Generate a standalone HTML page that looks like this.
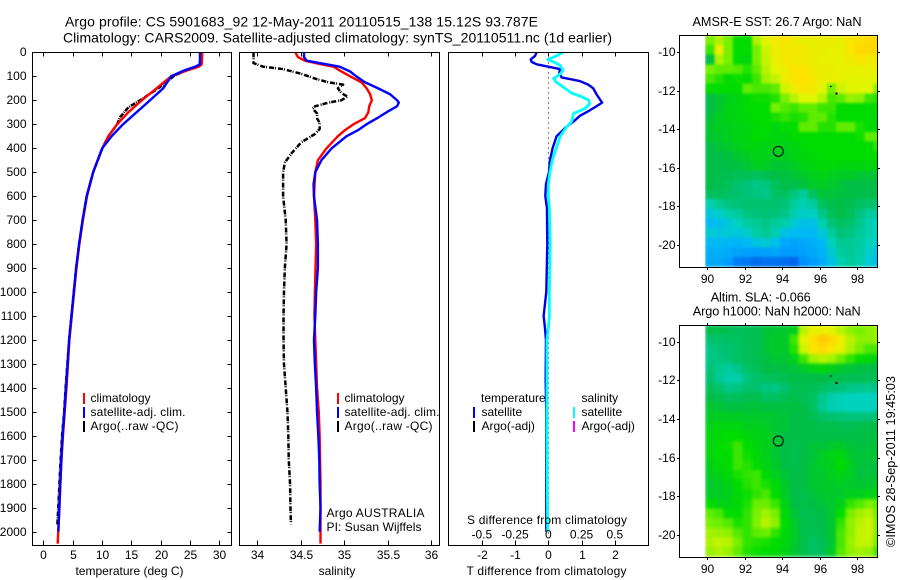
<!DOCTYPE html>
<html>
<head>
<meta charset="utf-8">
<title>Argo profile</title>
<style>
html,body{margin:0;padding:0;background:#fff}
svg{display:block}
text{font-family:"Liberation Sans",sans-serif;font-size:12px;fill:#000}
</style>
</head>
<body>
<svg id="chart" xmlns="http://www.w3.org/2000/svg" width="900" height="580" viewBox="0 0 900 580">
<defs>
<clipPath id="clip-sst"><rect x="705" y="35.5" width="172.5" height="232"/></clipPath>
<clipPath id="clip-sla"><rect x="705" y="325.5" width="172.5" height="232"/></clipPath>
<clipPath id="clip-p1"><rect x="32.5" y="52.5" width="199" height="493"/></clipPath>
<clipPath id="clip-p2"><rect x="239.5" y="52.5" width="200" height="493"/></clipPath>
<clipPath id="clip-p3"><rect x="448.5" y="52.5" width="200" height="493"/></clipPath>
<filter id="soften-sst" filterUnits="userSpaceOnUse" x="705" y="35" width="173" height="233" color-interpolation-filters="sRGB"><feGaussianBlur stdDeviation="1.3" edgeMode="duplicate"/></filter>
<filter id="soften-sla" filterUnits="userSpaceOnUse" x="705" y="325" width="173" height="233" color-interpolation-filters="sRGB"><feGaussianBlur stdDeviation="1.6" edgeMode="duplicate"/></filter>
</defs>
<text x="65" y="26.5" style="font-size:14px" textLength="473" lengthAdjust="spacing">Argo profile: CS 5901683_92 12-May-2011 20110515_138 15.12S 93.787E</text>
<text x="63" y="42.5" style="font-size:14px" textLength="549" lengthAdjust="spacing">Climatology: CARS2009. Satellite-adjusted climatology: synTS_20110511.nc (1d earlier)</text>
<g id="layer-maps"></g>
<g id="layer-profiles"></g>

<text x="129.5" y="575" text-anchor="middle">temperature (deg C)</text>
<text x="337" y="575" text-anchor="middle">salinity</text>
<text x="546.5" y="575" text-anchor="middle" textLength="160" lengthAdjust="spacing">T difference from climatology</text>
<text x="467" y="524" textLength="160" lengthAdjust="spacing">S difference from climatology</text>

<g>
<rect x="83" y="393" width="2" height="11" fill="#f00"/>
<rect x="83" y="407" width="2" height="11" fill="#00f"/>
<rect x="83" y="421" width="2" height="11" fill="#000"/>
<text x="90.5" y="402">climatology</text>
<text x="90.5" y="416" textLength="95" lengthAdjust="spacing">satellite-adj. clim.</text>
<text x="90.5" y="430" textLength="88" lengthAdjust="spacing">Argo(..raw -QC)</text>
</g>
<g>
<rect x="337" y="393" width="2" height="11" fill="#f00"/>
<rect x="337" y="407" width="2" height="11" fill="#00f"/>
<rect x="337" y="421" width="2" height="11" fill="#000"/>
<text x="344.5" y="402">climatology</text>
<text x="344.5" y="416" textLength="95" lengthAdjust="spacing">satellite-adj. clim.</text>
<text x="344.5" y="430" textLength="88" lengthAdjust="spacing">Argo(..raw -QC)</text>
<text x="326.5" y="517" textLength="98" lengthAdjust="spacing">Argo AUSTRALIA</text>
<text x="326.5" y="531" textLength="95" lengthAdjust="spacing">PI: Susan Wijffels</text>
</g>
<g>
<text x="481" y="402">temperature</text>
<rect x="473" y="407" width="2" height="11" fill="#00f"/>
<rect x="473" y="421" width="2" height="11" fill="#000"/>
<text x="481.5" y="416">satellite</text>
<text x="481.5" y="430">Argo(-adj)</text>
<text x="581.5" y="402">salinity</text>
<rect x="573" y="407" width="2" height="11" fill="#0ff"/>
<rect x="573" y="421" width="2" height="11" fill="#f0f"/>
<text x="581.5" y="416">satellite</text>
<text x="581.5" y="430">Argo(-adj)</text>
</g>

<text x="777" y="26" text-anchor="middle" textLength="169" lengthAdjust="spacing" style="font-size:12.7px">AMSR-E SST: 26.7 Argo: NaN</text>
<text x="760.7" y="301.5" text-anchor="middle" textLength="100" lengthAdjust="spacing" style="font-size:12.7px">Altim. SLA: -0.066</text>
<text x="776.7" y="315.5" text-anchor="middle" textLength="168" lengthAdjust="spacing" style="font-size:12.7px">Argo h1000: NaN h2000: NaN</text>
<text transform="translate(895 547) rotate(-90)" textLength="171" lengthAdjust="spacing" style="font-size:12.7px">©IMOS 28-Sep-2011 19:45:03</text>
</svg>

<script>
// ---------- profile data ----------
const tempClimDepth = [0,50,60,75,100,150,200,250,300,350,400,500,600,700,800,900,1000,1100,1200,1300,1400,1500,1600,1700,1800,1900,2000,2050];
const tempClim = [27.1,27,26.5,24.6,21.8,19.3,16.8,14.5,12.6,11.1,10.06,8.5,7.45,6.75,6.15,5.65,5.25,4.85,4.45,4.2,3.95,3.65,3.35,3.1,2.9,2.75,2.55,2.45];
const tempSatDepth = [0,50,60,75,100,150,200,250,300,350,400,500,600,700,800,900,1000,1100,1200,1300,1400,1500,1600,1700,1800,1900,2000];
const tempSat = [26.7,26.7,25.9,24.1,21.8,20.45,18.2,15.9,13.6,11.65,10.06,8.5,7.4,6.7,6.1,5.6,5.2,4.8,4.4,4.15,3.87,3.6,3.3,3.07,2.9,2.73,2.56];
const tempArgoDepth = [0,50,60,75,100,150,200,230,270,300,350,400,500,600,700,800,900,1000,1100,1200,1300,1400,1500,1600,1700,1800,1900,1970];
const tempArgo = [26.8,26.7,26,24.3,22.2,19.6,16.5,14.5,13.1,12.6,11.1,10.06,8.5,7.4,6.7,6.1,5.6,5.2,4.8,4.4,4.1,3.8,3.55,3.2,2.95,2.75,2.55,2.4];

const salClimDepth = [0,20,35,50,60,80,100,125,150,175,200,225,250,275,300,325,350,400,450,500,600,700,800,1000,1100,1200,1300,1400,1500,1600,1800,2000,2050];
const salClim = [34.44,34.47,34.55,34.74,34.88,34.97,35.07,35.2,35.26,35.3,35.32,35.29,35.28,35.24,35.11,35.01,34.93,34.8,34.7,34.67,34.655,34.67,34.68,34.665,34.66,34.67,34.68,34.69,34.71,34.72,34.73,34.73,34.73];
const salSatDepth = [0,20,35,50,60,80,100,125,150,175,200,210,225,250,275,300,325,350,400,450,500,550,600,700,800,900,1000,1100,1200,1300,1400,1500,1600,1700,1800,1900,2000];
const salSat = [34.54,34.54,34.57,34.8,34.95,35.07,35.14,35.24,35.39,35.53,35.61,35.63,35.61,35.49,35.38,35.26,35.16,35.03,34.86,34.74,34.67,34.65,34.655,34.69,34.7,34.7,34.68,34.67,34.655,34.665,34.68,34.69,34.705,34.716,34.72,34.73,34.72];
const salArgoDepth = [0,45,60,70,90,110,125,135,150,170,185,200,210,225,235,255,275,295,320,340,375,420,460,500,600,700,800,900,1000,1100,1200,1300,1400,1500,1600,1700,1800,1900,1970];
const salArgo = [33.96,33.96,34.07,34.3,34.51,34.67,34.82,34.99,34.93,34.97,35.04,34.97,34.82,34.67,34.64,34.69,34.69,34.72,34.72,34.67,34.51,34.4,34.32,34.3,34.3,34.33,34.34,34.32,34.31,34.305,34.305,34.31,34.33,34.35,34.36,34.365,34.38,34.385,34.39];

const diffTDepth = [0,15,30,40,50,60,70,85,105,120,135,150,175,200,210,225,250,265,290,310,350,400,450,500,550,600,650,800,1000,1050,1100,1150,1200,1370,1500,1770,2000];
const diffT = [-0.35,-0.4,-0.53,-0.5,-0.35,0,0.35,0.33,0.4,0.95,1.2,1.35,1.45,1.57,1.62,1.45,1.15,0.95,0.75,0.55,0.25,0.13,0.05,0.02,-0.07,-0.09,-0.04,-0.03,-0.06,-0.1,-0.14,-0.1,-0.07,-0.08,-0.06,-0.06,-0.06];
const diffSDepth = [0,15,30,40,55,75,90,110,125,150,170,185,200,215,235,255,290,310,350,400,450,500,550,600,650,800,1000,1100,1150,1200,1500,1750,2000];
const diffS = [0.11,0.06,-0.005,0.04,0.09,0.11,0.09,0.04,0.06,0.125,0.175,0.25,0.305,0.31,0.275,0.19,0.175,0.14,0.09,0.06,0.03,0.012,0,0,0.008,0.015,0.008,0.008,0,-0.01,-0.01,-0.008,-0.005];

// ---------- tick labels ----------
const depthTicks = [0,100,200,300,400,500,600,700,800,900,1000,1100,1200,1300,1400,1500,1600,1700,1800,1900,2000];
const tempTicks = [0,5,10,15,20,25,30];
const salTicks = [34,34.5,35,35.5,36];
const diffTTicks = [-2,-1,0,1,2];
const diffSTicks = [-0.5,-0.25,0,0.25,0.5];
const lonTicks = [90,92,94,96,98];
const latTicks = [-10,-12,-14,-16,-18,-20];

// ---------- map data (rows north to south, 0.5 degree cells, colour-scale units) ----------
const argoLon = 93.787;
const argoLat = -15.14;
const islandLon = [96.9,96.6];
const islandLat = [-12.13,-11.8];
const sstGrid = [
[7,7.5,7,6,6,7.5,8,8.5,8.7,8.5,8.3,8.3,8.3,8.3,8.3,8.8,9,9.2,9.2],
[6.5,8.4,7,6,6,7,7.8,8.3,8.6,8.6,8.5,8.3,8.3,8.2,8.2,8.8,9.2,9.3,9.2],
[5,7.5,7,6,5.8,7,7.7,8.2,8.7,8.6,8.5,8.4,8.2,8.2,8.2,8.5,8.8,8.6,8.5],
[7,6.8,6.8,6.7,6.3,6.8,7.6,8,8.4,8.8,8.8,8.5,8.3,8.3,8.2,8.2,8.2,8.2,8.2],
[6.6,6.3,6,6.1,6,6.5,7.4,7.7,8.4,8.8,9,8.7,8.3,8.2,8.2,8.1,8.1,8,8],
[6,6,6,6,6.8,6.6,6.6,6.8,7.8,8.4,8.8,8.6,8,7,7.8,8,8,8,7.2],
[5,5.3,5.6,5.8,6,6.1,6.1,6.3,7,7.6,8,8,7.6,6.6,6.8,7.3,7.2,6.5,6.3],
[5,5.3,5.7,5.8,6,6,6,7,6.7,6.5,6.8,6.8,6.5,6.5,6,6,6,6,6],
[5.2,5.5,5.7,5.8,5.9,6,6,6.2,6.4,6.2,6.3,6.8,6.8,6.3,6,6,6,6,5.8],
[5.3,5.5,5.6,5.7,5.8,5.9,6,5.8,6,6,6.8,6.8,6.3,6.3,6.8,6.8,6.2,6,5.8],
[5.3,5.4,5.6,5.7,5.8,6,5.9,5.8,5.8,6,6,6,6,6,6,6,6.1,6.8,6.8],
[5,5.2,5.4,5.6,5.8,5.8,5.7,5.7,5.6,5.8,5.9,6,6,6,6,6,6,6,6.4],
[5,5,5.1,5.3,5.5,5.7,5.6,5.5,5.6,5.7,5.8,5.9,6,6,6,6,6,6,6],
[5,5,5,5.1,5.3,5.6,5.5,5.3,5.3,5.5,5.7,5.8,5.9,5.9,5.8,5.8,5.8,5.8,5.8],
[5,4.9,4.8,4.7,4.7,4.5,4.8,5,5.1,5.2,5.4,5.6,5.7,5.6,5.5,5.4,5.3,5.3,5.3],
[5,4.8,4.6,4.2,4,3.8,3.9,4.6,4.9,4.9,5.1,5.4,5.5,5.4,5.2,5,5,5,5],
[4.5,4.6,4.4,4.2,4,3.9,3.8,4.3,4.5,3.9,3.5,4.4,5.2,5.2,5.1,5,4.9,4.9,4.8],
[3.2,3.6,3.9,4,4.2,4.2,4.2,4.2,4,3.5,3.2,3.5,4.5,4.9,5,4.8,4.5,4.3,4],
[2.5,2.8,3.2,3.5,3.9,4,4.1,4,3.8,3.2,2.8,2.9,3.8,4.6,5,4.6,3.9,3.5,3.4],
[2,2.2,2.5,3,3.4,3.6,3.8,3.5,3.3,2.6,2.3,2.3,3.2,4,4.5,4.2,3.7,3.2,3],
[2.6,2.5,2.6,2.5,2.8,3.4,3.6,3.2,2.3,2.1,2,2,2.5,3.4,4,3.9,3.5,3.2,3],
[2,2,1.9,1.8,2,2.4,2.6,2.2,1.5,1.4,1.5,1.7,2,3,3.6,3.6,3.4,3,2.7],
[1.7,1.7,1.6,1.4,1.3,1.2,1.3,1.4,1.2,1.1,1.3,1.5,1.8,2.6,3.4,3.6,3.3,2.8,2.4],
[1.5,1.5,1.2,0.6,0.5,0.3,0.4,0.4,0.3,0.2,0.9,1.2,1.6,2.3,3.2,3.5,3.2,2.6,2.2]
];
const slaGrid = [
[5,4.9,4.7,4.6,4.7,4.8,5.2,5.3,5.4,5.5,7.6,8.2,8.3,8.1,7.6,7.2,7,7.2,7.4],
[4.2,4.3,4.4,4.5,4.7,4.8,5.2,5.4,5.4,6.5,8,9,9.6,9.2,8.3,7.6,7.2,7.2,7.3],
[3.8,4,4.2,4.4,4.6,4.8,5.2,5.4,5.4,6.3,7.8,8.8,9.2,8.8,8.2,7.5,7,6.6,6.6],
[3.8,3.9,4.1,4.4,4.6,4.8,5.1,5.3,5.3,5.6,6.5,7.4,7.6,7.4,6.9,6.4,6,5.8,5.7],
[4,3.7,3.5,3.8,4.4,4.7,5,5,5.1,5.2,5.4,5.7,5.8,5.6,5.4,5.2,5.1,5,5],
[4.2,3.6,3.3,3.3,3.9,4.3,4.5,4.6,4.8,5,5,5,5,4.9,4.8,4.7,4.7,4.7,4.7],
[4.6,4.3,3.8,3.9,4.2,4.2,3.9,3.8,4.2,4.7,4.8,4.7,4.5,4.2,4,3.8,3.7,3.7,3.8],
[5,4.8,4.5,4.6,4.8,4.9,4.4,4.5,4.7,4.9,4.7,4.5,3.7,3.3,3.1,3,3,3,3.1],
[5.3,5.2,5.1,5.1,5.1,5.2,5.1,5.1,5.1,5.1,5,4.5,3.6,3.2,3.1,3,3,3,3.1],
[5.5,5.5,5.5,5.5,5.4,5.4,5.4,5.3,5.2,5,5,4.8,4.4,4.2,4.1,4,4,4,4.2],
[5.7,5.8,5.8,5.8,5.6,5.6,5.5,5.3,5.2,5,5,5,4.9,4.9,4.8,4.8,4.9,5,5],
[5.8,5.9,6,6,5.8,5.7,5.6,5.3,5,5,5,5,5,5,5,5,5,5,5.2],
[5.8,6,6.1,6.5,6,5.8,5.6,5.3,5,4.9,5,5.2,5.2,5.4,5.4,5.2,5.1,5.1,5.3],
[5.8,6,6,6.5,6.1,5.9,5.6,5.3,5,4.9,5,5.2,5.5,5.7,5.8,5.4,5.2,5.2,5.3],
[5.6,5.9,6,6.5,6.3,6,5.7,5.4,5,4.9,5,5.3,5.5,5.6,6,5.5,5.2,5.1,5.2],
[5.5,5.7,5.9,6.2,6.4,6.5,5.9,5.6,5.2,5,5,5.3,5.4,5.6,5.7,5.5,5.1,5.2,5.2],
[5.4,5.5,5.7,6,6.3,6.5,6.2,5.9,5.4,5,5,5.3,5.4,5.4,5.5,5.4,5.3,5.3,5.4],
[5.5,5.5,5.6,5.9,6.1,6.4,6.6,6,5.5,5,4.9,5.2,5.3,5.4,5.4,5.6,5.6,5.7,5.7],
[6,5.7,5.7,5.9,6.2,6.9,6.9,6.5,5.7,5,4.9,5,5.2,5.4,5.6,6.4,6.7,7,6.8],
[6.8,6.6,6,6,6.4,7,7.4,7,5.9,5.2,4.8,4.9,5,5.3,6,7,7.4,7.6,6.9],
[7,6.9,6.7,6.2,6.4,7.1,7.6,7.2,6,5.4,4.9,4.8,5,5.3,6.4,7.2,7.6,7.8,7],
[7.4,7.3,7.2,6.7,6.4,6.8,6.9,6.4,5.9,5.5,4.9,4.7,4.9,5.3,6.6,7.2,7.7,7.8,7],
[7.5,7.7,7.6,7,6.4,6.3,6.2,6,5.8,5.4,4.9,4.5,4.7,5.3,6.6,7.3,7.7,7.7,6.9],
[7.3,7.5,7.3,6.8,6.3,6.1,6,5.9,5.7,5.3,4.9,4.5,4.7,5.4,6.7,7.2,7.4,7.3,6.5]
];

// ---------- helpers ----------
const NS = 'http://www.w3.org/2000/svg';
const profiles = document.getElementById('layer-profiles');
const maps = document.getElementById('layer-maps');

function make(tag, parent, attrs) {
  const el = document.createElementNS(NS, tag);
  for (const k in attrs) el.setAttribute(k, attrs[k]);
  parent.appendChild(el);
  return el;
}
function depthY(d) { return 52.3 + d * 0.2397; }
function tempX(t) { return 43.3 + t * 5.867; }
function salX(s) { return 257 + (s - 34) * 87; }
function diffTX(v) { return 548.3 + v * 33.25; }
function diffSX(v) { return 548.3 + v * 133; }
function lonX(lon) { return 707.3 + (lon - 90) * 18.75; }
function latYSst(lat) { return 52.3 + (-10 - lat) * 19.27; }
function latYSla(lat) { return 341.7 + (-10 - lat) * 19.33; }

function drawFrame(parent, x0, y0, x1, y1, name) {
  const el = make('rect', parent, {x:x0, y:y0, width:x1-x0, height:y1-y0, fill:'none', stroke:'#000', 'stroke-width':1, 'shape-rendering':'crispEdges'});
  
  
}
function drawTick(parent, x0, y0, x1, y1) {
  const el = make('line', parent, {x1:x0, y1:y0, x2:x1, y2:y1, stroke:'#000', 'stroke-width':1, 'shape-rendering':'crispEdges'});
  
  
}
function drawLabel(parent, x, y, str, anchor) {
  const el = make('text', parent, {x:x, y:y, 'text-anchor':anchor});
  el.textContent = str;
  
  
}
function drawSeries(parent, depths, values, xFn, color, name, clip, dash, width) {
  const pts = depths.map((d, i) => xFn(values[i]).toFixed(2) + ',' + depthY(d).toFixed(2)).join(' ');
  const attrs = {points:pts, fill:'none', stroke:color, 'stroke-width':width || 2.4, 'stroke-linejoin':'round', 'clip-path':'url(#' + clip + ')'};
  if (dash) attrs['stroke-dasharray'] = dash;
  const el = make('polyline', parent, attrs);
  
  
}
function drawProfileAxes(parent, x0, x1, xTicks, xFn, withDepthTicks, name) {
  const y0 = 52.5, y1 = 545.5;
  drawFrame(parent, x0, y0, x1, y1, name);
  xTicks.forEach(t => {
    const x = Math.round(xFn(t)) + 0.5;
    drawTick(parent, x, y0, x, y0 + 4);
    drawTick(parent, x, y1, x, y1 - 5);
    drawLabel(parent, x, 559, String(t), 'middle');
  });
  if (withDepthTicks) {
    depthTicks.forEach(d => {
      const y = Math.round(depthY(d)) + 0.5;
      drawTick(parent, x0, y, x0 + 4, y);
      drawTick(parent, x1, y, x1 - 4, y);
      drawLabel(parent, x0 - 6, y + 3.5, String(d), 'end');
    });
  }
}

// ---------- profile panels ----------
const panelTemp = make('g', profiles, {});


drawSeries(panelTemp, tempArgoDepth, tempArgo, tempX, '#000', 'temperature-argo-line', 'clip-p1', '5 1 1 1', 2.5);
drawSeries(panelTemp, tempClimDepth, tempClim, tempX, '#f00', 'temperature-climatology-line', 'clip-p1');
drawSeries(panelTemp, tempSatDepth, tempSat, tempX, '#00f', 'temperature-satellite-line', 'clip-p1');
drawProfileAxes(panelTemp, 32.5, 231.5, tempTicks, tempX, true, 'temperature-plot-frame');

const panelSal = make('g', profiles, {});


drawSeries(panelSal, salArgoDepth, salArgo, salX, '#000', 'salinity-argo-line', 'clip-p2', '5 1 1 2', 2.5);
drawSeries(panelSal, salClimDepth, salClim, salX, '#f00', 'salinity-climatology-line', 'clip-p2');
drawSeries(panelSal, salSatDepth, salSat, salX, '#00f', 'salinity-satellite-line', 'clip-p2');
drawProfileAxes(panelSal, 239.5, 439.5, salTicks, salX, false, 'salinity-plot-frame');

const panelDiff = make('g', profiles, {});


const zeroLine = make('line', panelDiff, {x1:548.5, y1:52.5, x2:548.5, y2:545.5, stroke:'#000', 'stroke-width':1, 'stroke-dasharray':'1 4', 'shape-rendering':'crispEdges'});


drawSeries(panelDiff, diffTDepth, diffT, diffTX, '#0000e6', 'temperature-difference-line', 'clip-p3');
drawSeries(panelDiff, diffSDepth, diffS, diffSX, '#0ff', 'salinity-difference-line', 'clip-p3', null, 2.8);
drawProfileAxes(panelDiff, 448.5, 648.5, diffTTicks, diffTX, false, 'difference-plot-frame');
diffSTicks.forEach(v => drawLabel(panelDiff, diffSX(v), 538.5, String(v), 'middle'));

// ---------- maps ----------
function valueColor(v) {
  const stops = [[0,90,230],[0,150,255],[0,185,245],[0,210,190],[0,195,120],[0,190,70],[0,220,0],[120,240,0],[225,245,0],[255,225,0],[255,190,0]];
  const c = Math.max(0, Math.min(9.999, v));
  const i = Math.floor(c), f = c - i;
  const mix = j => Math.round(stops[i][j] + (stops[i + 1][j] - stops[i][j]) * f);
  return 'rgb(' + mix(0) + ',' + mix(1) + ',' + mix(2) + ')';
}
function drawMap(grid, latY, x0, y0, x1, y1, clip, soften, name) {
  const g = make('g', maps, {});
  
  
  const clipper = make('g', g, {'clip-path':'url(#' + clip + ')'});
  const cells = make('g', clipper, {'filter':'url(#' + soften + ')', 'shape-rendering':'crispEdges'});
  grid.forEach((row, r) => row.forEach((v, c) => {
    const lonW = 89.875 + c * 0.5, latN = -9.125 - r * 0.5;
    const cell = make('rect', cells, {x:lonX(lonW).toFixed(2), y:latY(latN).toFixed(2), width:(0.5 * 18.75 + 0.5).toFixed(2), height:(0.5 * 19.3 + 0.5).toFixed(2), fill:valueColor(v)});
    
    
  }));
  islandLon.forEach((lon, i) => {
    const isl = make('rect', g, {x:lonX(lon) - 1, y:latY(islandLat[i]) - 1, width:2, height: i === 0 ? 2 : 1, fill:'#000', 'shape-rendering':'crispEdges'});
    
    
  });
  const marker = make('circle', g, {cx:lonX(argoLon), cy:latY(argoLat), r:5, fill:'none', stroke:'#000', 'stroke-width':1});
  
  
  drawFrame(g, x0, y0, x1, y1, 'map-frame');
  lonTicks.forEach(lon => {
    const x = Math.round(lonX(lon)) + 0.5;
    drawTick(g, x, y0, x, y0 - 2.5);
    drawTick(g, x, y1, x, y1 + 2.5);
    drawLabel(g, x, y1 + 15.5, String(lon), 'middle');
  });
  latTicks.forEach(lat => {
    const y = Math.round(latY(lat)) + 0.5;
    drawTick(g, x0, y, x0 - 2.5, y);
    drawTick(g, x1, y, x1 + 2.5, y);
    drawLabel(g, x0 - 4, y + 3.5, String(lat), 'end');
  });
}
drawMap(sstGrid, latYSst, 679.5, 35.5, 877.5, 267.5, 'clip-sst', 'soften-sst', 'sst-map');
drawMap(slaGrid, latYSla, 679.5, 325.5, 877.5, 557.5, 'clip-sla', 'soften-sla', 'sla-map');
</script>
</body>
</html>
